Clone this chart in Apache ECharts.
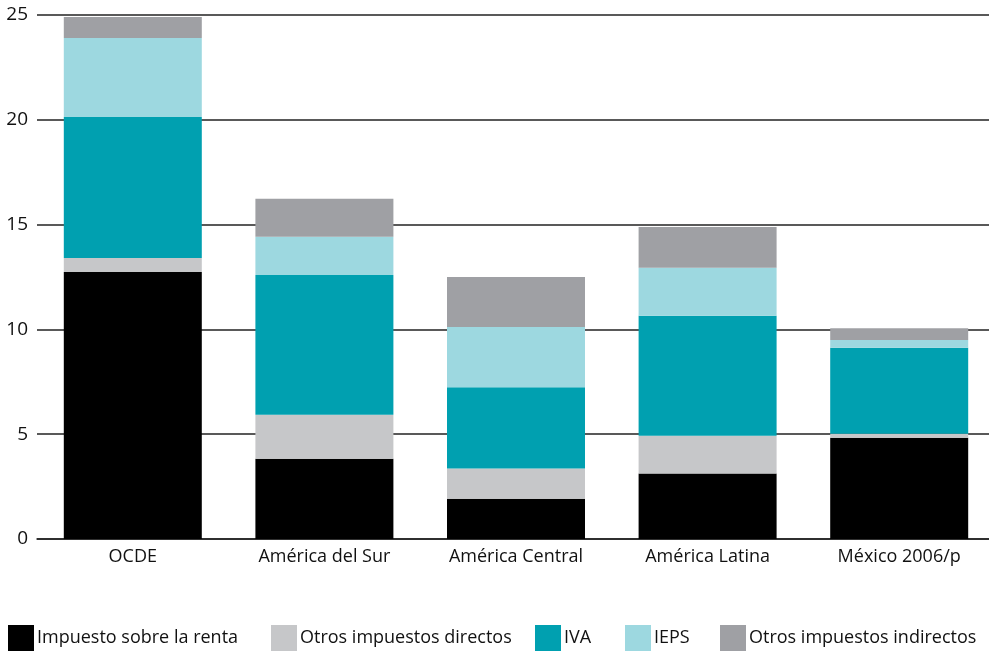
<!DOCTYPE html>
<html>
<head>
<meta charset="utf-8">
<script src="https://cdn.jsdelivr.net/npm/echarts@6/dist/echarts.min.js"></script>
<style>
  html, body { margin: 0; padding: 0; background: #fff; }
  #chart { width: 989px; height: 652px; }
</style>
</head>
<body>
<div id="chart"></div>
<script>
const CATEGORIES = ['OCDE', 'América del Sur', 'América Central', 'América Latina', 'México 2006/p'];
const SERIES_NAMES = ['Impuesto sobre la renta', 'Otros impuestos directos', 'IVA', 'IEPS', 'Otros impuestos indirectos'];
const RENTA = [12.74, 3.83, 1.92, 3.12, 4.83];
const OTROS_DIRECTOS = [0.67, 2.10, 1.44, 1.81, 0.19];
const IVA = [6.72, 6.67, 3.88, 5.72, 4.10];
const IEPS = [3.77, 1.82, 2.88, 2.29, 0.38];
const OTROS_INDIRECTOS = [1.00, 1.81, 2.38, 1.95, 0.55];

const FONT = '"Open Sans", "Noto Sans", sans-serif';
const COLORS = ['#000000', '#c6c7c9', '#00a0b0', '#9dd8e0', '#9fa0a4'];
const LEGEND_LEFT = [8, 271, 535, 625, 720];

function stackSeries(name, data, color) {
    return { name, type: 'bar', stack: 'total', data, barWidth: 138, itemStyle: { color } };
}

// one legend per item so each box lands where the original put it
const legends = SERIES_NAMES.map((name, i) => ({
    left: LEGEND_LEFT[i],
    bottom: 1,
    padding: 0,
    itemWidth: 26,
    itemHeight: 26,
    icon: 'rect',
    textStyle: { fontFamily: FONT, fontSize: 18, color: '#111', padding: [0, 0, 0, -2] },
    data: [name],
}));

const chart = echarts.init(document.getElementById('chart'), null, { renderer: 'canvas' });
chart.setOption({
    animation: false,
    grid: { top: 15, left: 37, width: 958, bottom: 113, containLabel: false, outerBoundsMode: 'none' },
    legend: legends,
    xAxis: {
        type: 'category',
        data: CATEGORIES,
        axisTick: { show: false },
        axisLine: { lineStyle: { color: '#222', width: 1.5 } },
        axisLabel: { fontFamily: FONT, fontSize: 18, color: '#111', margin: 9 },
    },
    yAxis: {
        type: 'value',
        min: 0,
        max: 25,
        interval: 5,
        axisLine: { show: false },
        axisTick: { show: false },
        axisLabel: { fontFamily: FONT, fontSize: 19, color: '#111', margin: 9 },
        splitLine: { lineStyle: { color: '#222', width: 1.5 } },
    },
    series: [
        stackSeries(SERIES_NAMES[0], RENTA, COLORS[0]),
        stackSeries(SERIES_NAMES[1], OTROS_DIRECTOS, COLORS[1]),
        stackSeries(SERIES_NAMES[2], IVA, COLORS[2]),
        stackSeries(SERIES_NAMES[3], IEPS, COLORS[3]),
        stackSeries(SERIES_NAMES[4], OTROS_INDIRECTOS, COLORS[4]),
    ],
});
</script>
</body>
</html>
